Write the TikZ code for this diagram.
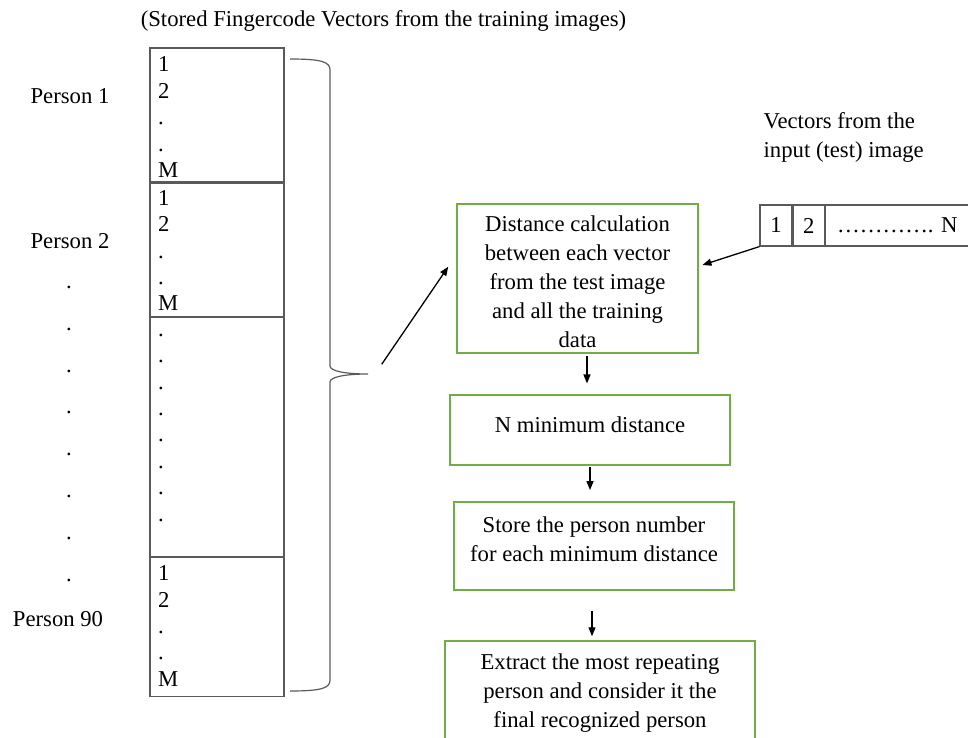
\documentclass[tikz,border=0pt]{standalone}
\usepackage{fontspec}
\setmainfont{Liberation Serif}
\usetikzlibrary{arrows.meta}
\usetikzlibrary{positioning}
\definecolor{flowgreen}{RGB}{112,173,71}
\definecolor{segline}{RGB}{90,90,90}
\tikzstyle{flow}=[
   rectangle,
   draw=flowgreen,
   line width=0.75pt,
   align=center,
   inner sep=0pt,
   font=\fontsize{11.35}{14.5}\selectfont
]
\tikzstyle{seg}=[rectangle,draw=segline,line width=0.6pt,minimum width=67pt,inner sep=0pt]
\tikzstyle{cell}=[rectangle,draw=segline,line width=0.6pt,minimum height=20.5pt,inner sep=0pt]
\tikzstyle{nums}=[anchor=base west,align=left,inner sep=0pt,font=\fontsize{11.35}{13.2}\selectfont]
\tikzstyle{lbl}=[anchor=base,inner sep=0pt]
\newcommand{\lift}[1]{\rule[-#1]{0pt}{#1}}

\begin{document}
\begin{tikzpicture}[x=0.5pt,y=-0.5pt,->,>={Triangle[length=4.5pt,width=3.5pt]},line width=0.65pt,font=\fontsize{11.35}{13.6}\selectfont]

  \useasboundingbox (0,0) rectangle (968,738);

  \node[lbl] (title) at (383.5,27) {(Stored Fingercode Vectors from the training images)};

  % stored vectors, one block per person
  \node[seg,minimum height=67pt]   (pa) at (217,115) {};
  \node[seg,minimum height=66.5pt] (pb) [below=0pt of pa] {};
  \node[seg,minimum height=119.5pt] (pc) [below=0pt of pb] {};
  \node[seg,minimum height=69.5pt] (pd) [below=0pt of pc] {};

  % anchored at the baseline of the last line
  \node[nums] (na) at ([xshift=4pt,yshift=2.5pt]pa.south west)  {1\\2\\.\\.\\M};
  \node[nums] (nb) at ([xshift=4pt,yshift=3pt]pb.south west)    {1\\2\\.\\.\\M};
  \node[nums] (nc) at ([xshift=4pt,yshift=18pt]pc.south west)   {.\\.\\.\\.\\.\\.\\.\\.};
  \node[nums] (nd) at ([xshift=4pt,yshift=5.5pt]pd.south west)  {1\\2\\.\\.\\M};

  \node[lbl] (p1)  at (70,104) {Person 1};
  \node[lbl] (p2)  at (70,248) {Person 2};
  \node[lbl,align=center,font=\fontsize{11.35}{20.9}\selectfont] (pdots) at (69,581) {.\\.\\.\\.\\.\\.\\.\\.};
  \node[lbl] (p90) at (58,626) {Person 90};

  \draw[-,segline,line width=0.6pt] (290,59) .. controls (322,59) and (330,62) .. (330,70) -- (330,366)
        .. controls (330,371) and (345,374) .. (368,374)
        .. controls (345,374) and (330,377) .. (330,382) -- (330,680)
        .. controls (330,688) and (322,691) .. (290,691);
  \coordinate (bt) at (381.7,364.3);

  % test image vector
  \node[anchor=base west,align=left,inner sep=0pt,font=\fontsize{11.35}{14.5}\selectfont] (vin) at (763,157) {Vectors from the\\input (test) image};
  \node[cell,minimum width=16pt]   (t1) at (776,225.5) {1};
  \node[cell,minimum width=15.5pt] (t2) [right=0pt of t1] {2};
  \node[cell,minimum width=72pt]   (t3) [right=0pt of t2] {…………. N};

  % flow
  \node[flow,minimum width=120.5pt,minimum height=74.5pt] (dist) at (577.5,278.5)
        {\rule{0pt}{11pt}Distance calculation\\between each vector\\from the test image\\and all the training\\data};
  \node[flow,minimum width=140pt,minimum height=35pt] (mind) at (590,430) {N minimum distance\lift{5pt}};
  \node[flow,minimum width=140pt,minimum height=44pt] (store) at (594,546)
        {Store the person number\\for each minimum distance\lift{7pt}};
  \node[flow,minimum width=155pt,minimum height=52pt] (final) at (600,693)
        {Extract the most repeating\\person and consider it the\\final recognized person};

  \path (bt) edge ([xshift=-4pt,yshift=5.9pt]dist.west)
        (t1.south west) edge ([xshift=1.85pt,yshift=6.75pt]dist.east);

  \path ([xshift=4.75pt]dist.south) edge[shorten <=1pt,shorten >=5.4pt] ([xshift=4.75pt]dist.south |- mind.north)
        (mind.south) edge[shorten <=0.5pt,shorten >=5.6pt] (mind.south |- store.north)
        ([xshift=-1pt]store.south) edge[shorten <=10pt,shorten >=2pt] ([xshift=-1pt]store.south |- final.north);

\end{tikzpicture}
\end{document}
